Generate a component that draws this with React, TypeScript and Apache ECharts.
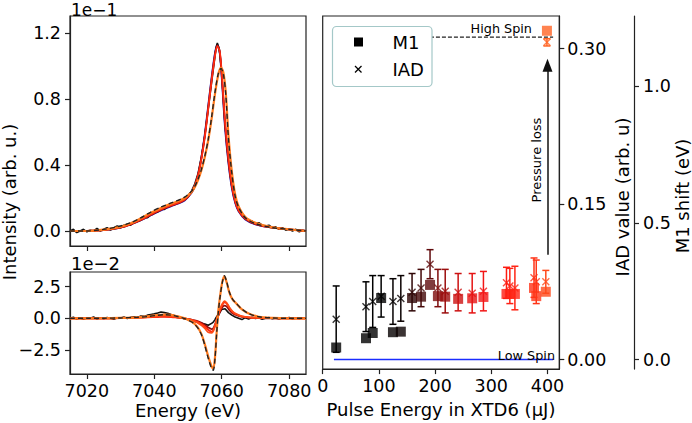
import React, { useEffect, useRef } from "react";
import * as echarts from "echarts";

// ---------- tick values ----------
const energyTicks = [7020, 7040, 7060, 7080];
const topTicks = [0, 0.4, 0.8, 1.2];
const bottomTicks = [-2.5, 0, 2.5];
const iadTicks = [0, 0.15, 0.3];
const m1Ticks = [0, 0.5, 1.0];

// ---------- top panel spectra (units of 1e-1) ----------
const lsEnergy = [7015, 7020, 7025, 7030, 7033, 7036, 7039, 7042, 7045, 7047, 7049, 7051, 7052, 7053, 7054, 7055, 7056, 7057, 7058, 7058.7, 7059.4, 7060, 7061, 7062, 7063, 7064, 7065, 7067, 7070, 7075, 7080, 7085];
const blueTop = [0, 0, 0.005, 0.02, 0.04, 0.065, 0.095, 0.125, 0.15, 0.165, 0.185, 0.23, 0.27, 0.34, 0.45, 0.59, 0.76, 0.93, 1.08, 1.13, 1.08, 0.93, 0.62, 0.41, 0.26, 0.17, 0.12, 0.07, 0.04, 0.02, 0.01, 0];
const darkRedTop = [0, 0, 0.005, 0.02, 0.04, 0.066, 0.097, 0.127, 0.152, 0.167, 0.187, 0.232, 0.272, 0.34, 0.445, 0.58, 0.75, 0.92, 1.07, 1.125, 1.085, 0.945, 0.64, 0.42, 0.27, 0.175, 0.122, 0.072, 0.042, 0.02, 0.01, 0];
const redTop = [0, 0, 0.006, 0.022, 0.042, 0.068, 0.1, 0.13, 0.155, 0.17, 0.19, 0.235, 0.275, 0.34, 0.44, 0.57, 0.74, 0.91, 1.06, 1.12, 1.09, 0.96, 0.66, 0.44, 0.28, 0.18, 0.125, 0.075, 0.045, 0.02, 0.01, 0];

const hsEnergy = [7015, 7020, 7025, 7030, 7033, 7036, 7039, 7042, 7045, 7047, 7049, 7051, 7052, 7053, 7054, 7055, 7056, 7057, 7058, 7059, 7059.8, 7060.5, 7061.2, 7062, 7063, 7064, 7065, 7067, 7070, 7075, 7080, 7085];
const orangeTop = [0, 0, 0.008, 0.026, 0.047, 0.077, 0.11, 0.14, 0.165, 0.18, 0.2, 0.235, 0.265, 0.31, 0.37, 0.45, 0.55, 0.68, 0.83, 0.95, 0.99, 0.96, 0.84, 0.58, 0.36, 0.22, 0.15, 0.085, 0.05, 0.022, 0.01, 0];
const dashedTop = [0, 0, 0.01, 0.03, 0.05, 0.08, 0.115, 0.145, 0.17, 0.185, 0.205, 0.24, 0.27, 0.315, 0.375, 0.455, 0.555, 0.69, 0.84, 0.955, 0.985, 0.95, 0.83, 0.56, 0.35, 0.21, 0.145, 0.08, 0.045, 0.02, 0.01, 0];

const noisyEnergy = [7015, 7016, 7017, 7018, 7019, 7020, 7021, 7022, 7023, 7024, 7025, 7026, 7027, 7028, 7029, 7030, 7031, 7032, 7033, 7034, 7035, 7036, 7037, 7038, 7039, 7040, 7041, 7042, 7043, 7044, 7045, 7046, 7047, 7048, 7049, 7050, 7051, 7052, 7053, 7054, 7055, 7056, 7057, 7057.5, 7058, 7058.3, 7058.7, 7059.3, 7060, 7061, 7062, 7063, 7064, 7065, 7066, 7067, 7068, 7069, 7070, 7071, 7072, 7073, 7074, 7075, 7076, 7077, 7078, 7079, 7080, 7081, 7082, 7083, 7084, 7085];
const blackTop = [0, 0.01, -0.01, 0, 0.01, -0.005, 0.005, 0, 0.015, 0, 0.01, 0.02, 0.005, 0.02, 0.03, 0.02, 0.035, 0.04, 0.035, 0.055, 0.06, 0.065, 0.085, 0.08, 0.1, 0.11, 0.115, 0.135, 0.13, 0.15, 0.155, 0.165, 0.17, 0.185, 0.19, 0.215, 0.24, 0.285, 0.35, 0.45, 0.58, 0.74, 0.9, 0.98, 1.06, 1.11, 1.14, 1.1, 0.96, 0.64, 0.43, 0.27, 0.18, 0.13, 0.1, 0.08, 0.065, 0.06, 0.045, 0.05, 0.035, 0.03, 0.035, 0.02, 0.025, 0.01, 0.02, 0.005, 0.01, 0, 0.01, -0.005, 0.005, 0];

// ---------- bottom panel differences (units of 1e-2) ----------
const diffEnergy = [7015, 7020, 7025, 7030, 7035, 7038, 7041, 7043, 7045, 7047, 7049, 7051, 7052, 7053, 7054, 7055, 7056, 7057, 7057.5, 7058, 7058.5, 7059, 7059.6, 7060.2, 7060.8, 7061.5, 7062.3, 7063.2, 7064.4, 7066, 7068, 7071, 7075, 7080, 7085];
const orangeDiff = [0, 0, 0.01, 0.03, 0.08, 0.15, 0.26, 0.3, 0.27, 0.15, 0, -0.25, -0.45, -0.75, -1.25, -2.05, -3.0, -3.8, -3.95, -3.1, -1.1, 0.6, 1.9, 2.9, 3.3, 2.8, 2.0, 1.5, 1.15, 0.7, 0.38, 0.12, 0.03, 0, 0];
const dashedDiff = [0, 0, 0.01, 0.03, 0.08, 0.14, 0.24, 0.28, 0.25, 0.13, -0.02, -0.27, -0.48, -0.8, -1.3, -2.15, -3.15, -3.95, -4.1, -3.2, -1.2, 0.5, 1.85, 2.85, 3.35, 2.85, 2.05, 1.52, 1.15, 0.72, 0.38, 0.12, 0.03, 0, 0];
const redDiff = [0, 0, 0, 0.02, 0.05, 0.08, 0.1, 0.12, 0.1, 0.05, 0, -0.12, -0.2, -0.3, -0.45, -0.65, -0.9, -1.05, -0.95, -0.6, -0.2, 0.25, 0.7, 1.05, 1.25, 1.15, 0.8, 0.5, 0.3, 0.15, 0.07, 0.03, 0.01, 0, 0];
const darkRedDiff = [0, 0, 0, 0.02, 0.06, 0.1, 0.14, 0.16, 0.13, 0.06, 0, -0.1, -0.16, -0.24, -0.36, -0.52, -0.72, -0.85, -0.78, -0.5, -0.15, 0.2, 0.58, 0.88, 1.0, 0.92, 0.65, 0.4, 0.24, 0.12, 0.05, 0.02, 0, 0, 0];
const orangeRedDiff = [0, 0, 0, 0.02, 0.05, 0.1, 0.18, 0.22, 0.18, 0.08, -0.02, -0.15, -0.25, -0.38, -0.55, -0.8, -1.1, -1.15, -1.0, -0.6, -0.1, 0.35, 0.8, 1.15, 1.35, 1.2, 0.85, 0.55, 0.33, 0.16, 0.08, 0.03, 0.01, 0, 0];
const blackDiff = [0, 0.08, -0.05, 0.03, -0.08, 0.05, 0, 0.1, -0.06, 0.04, -0.03, 0.07, 0, -0.07, 0.05, 0.02, 0.1, -0.02, 0.08, 0.12, 0.05, 0.18, 0.15, 0.25, 0.3, 0.35, 0.42, 0.5, 0.45, 0.4, 0.3, 0.22, 0.15, 0.05, -0.05, -0.1, -0.2, -0.25, -0.3, -0.4, -0.45, -0.55, -0.4, -0.3, -0.1, 0.05, 0.2, 0.4, 0.7, 0.75, 0.45, 0.25, 0.1, 0, -0.1, 0.05, -0.05, 0.08, -0.02, 0.05, -0.08, 0, 0.06, -0.04, 0.03, -0.06, 0.04, 0, 0.07, -0.05, 0.02, -0.03, 0.05, 0];

// ---------- right panel ----------
const pulseEnergy = [24, 77, 89, 104, 125, 139, 159, 175, 191, 205, 218, 241, 266, 286, 327, 333, 342, 376, 380, 397, 399];
const m1Shift = [0.044, 0.078, 0.097, 0.225, 0.1, 0.102, 0.225, 0.23, 0.273, 0.232, 0.23, 0.222, 0.224, 0.229, 0.24, 0.24, 0.24, 0.262, 0.232, 0.248, 1.203];
const iadValue = [0.039, 0.051, 0.056, 0.061, 0.056, 0.059, 0.065, 0.069, 0.092, 0.069, 0.066, 0.065, 0.064, 0.066, 0.074, 0.071, 0.069, 0.079, 0.075, 0.075, 0.306];
const iadError = [0.032, 0.024, 0.025, 0.02, 0.022, 0.022, 0.018, 0.018, 0.014, 0.018, 0.021, 0.018, 0.019, 0.019, 0.015, 0.017, 0.021, 0.019, 0.021, 0.011, 0.0035];
const pointColors = ["#000000", "#000000", "#000000", "#000000", "#050000", "#0a0000", "#2e0606", "#440808", "#600a0c", "#7e0c0c", "#9c0e0e", "#cc1111", "#e61414", "#f21616", "#ff1c12", "#ff2014", "#ff2515", "#ff3216", "#ff3618", "#ff4a1c", "#ff6424"];
const highSpinIAD = 0.311;
const lowSpinIAD = 0;
const spinLineRange = [20, 410];
const arrowRange = [0.101, 0.284];

const FONT = "DejaVu Sans";
const AX = "#222222";
const zip = (xs: number[], ys: number[]) => xs.map((x, i) => [x, ys[i]]);
const minus = (s: string) => s.replace("-", "\u2212");

function App() {
  const ref = useRef<HTMLDivElement>(null);
  useEffect(() => {
    if (!ref.current) return;
    const chart = echarts.init(ref.current, undefined, { renderer: "svg" });

    const tickLabel = { fontSize: 17.5, fontFamily: FONT, color: "#000", fontWeight: "normal" };
    const nameStyle = { fontSize: 18, fontFamily: FONT, color: "#000", fontWeight: "normal", verticalAlign: "top" };
    const baseAxis = {
      axisLine: { show: true, onZero: false, lineStyle: { color: AX, width: 1.2 } },
      axisTick: { show: true, length: 5, lineStyle: { color: AX, width: 1.2 } },
      splitLine: { show: false },
    };
    const lineS = (x: number[], y: number[], color: string, ax: number, width = 1.8, type: any = "solid", smooth: any = 0.3) => ({
      type: "line",
      xAxisIndex: ax,
      yAxisIndex: ax,
      data: zip(x, y),
      showSymbol: false,
      smooth,
      lineStyle: { color, width, type },
      silent: true,
    });

    const errData = pulseEnergy.map((p, i) => [p, iadValue[i] - iadError[i], iadValue[i] + iadError[i], i]);

    const option: any = {
      animation: false,
      grid: [
        { left: 70, top: 16, width: 236, height: 230, show: true, borderColor: AX, borderWidth: 1.2, backgroundColor: "transparent" },
        { left: 70, top: 272, width: 236, height: 102, show: true, borderColor: AX, borderWidth: 1.2, backgroundColor: "transparent" },
        { left: 322.7, top: 16, width: 236.6, height: 358, show: true, borderColor: AX, borderWidth: 1.2, backgroundColor: "transparent" },
      ],
      xAxis: [
        { ...baseAxis, gridIndex: 0, type: "value", min: 7015, max: 7085, axisLabel: { show: false, customValues: energyTicks }, axisTick: { ...baseAxis.axisTick, customValues: energyTicks } },
        { ...baseAxis, gridIndex: 1, type: "value", min: 7015, max: 7085, axisLabel: { ...tickLabel, margin: 8, customValues: energyTicks, formatter: (v: number) => String(v) }, axisTick: { ...baseAxis.axisTick, customValues: energyTicks },
          name: "Energy (eV)", nameLocation: "middle", nameGap: 27, nameTextStyle: nameStyle },
        { ...baseAxis, gridIndex: 2, type: "value", min: 0, max: 421, interval: 100, axisLabel: { ...tickLabel, margin: 8, showMinLabel: true, formatter: (v: number) => String(v) },
          name: "Pulse Energy in XTD6 (\u00b5J)", nameLocation: "middle", nameGap: 27, nameTextStyle: nameStyle },
      ],
      yAxis: [
        { ...baseAxis, gridIndex: 0, type: "value", min: -0.091, max: 1.303, axisLabel: { ...tickLabel, margin: 9, customValues: topTicks, formatter: (v: number) => v.toFixed(1) }, axisTick: { ...baseAxis.axisTick, customValues: topTicks } },
        { ...baseAxis, gridIndex: 1, type: "value", min: -4.39, max: 3.65, axisLabel: { ...tickLabel, margin: 9, customValues: bottomTicks, formatter: (v: number) => minus(v.toFixed(1)) }, axisTick: { ...baseAxis.axisTick, customValues: bottomTicks } },
        { ...baseAxis, gridIndex: 2, type: "value", position: "right", min: -0.0092, max: 0.3314, axisLabel: { ...tickLabel, margin: 8, customValues: iadTicks, formatter: (v: number) => v.toFixed(2) }, axisTick: { ...baseAxis.axisTick, customValues: iadTicks } },
        { ...baseAxis, gridIndex: 2, type: "value", position: "right", offset: 74.7, min: -0.035, max: 1.257, axisLabel: { ...tickLabel, margin: 9, customValues: m1Ticks, formatter: (v: number) => v.toFixed(1) }, axisTick: { ...baseAxis.axisTick, customValues: m1Ticks } },
      ],
      series: [
        // top panel
        lineS(lsEnergy, blueTop, "#2424c8", 0),
        lineS(noisyEnergy, blackTop, "#111111", 0, 1.6, "solid", false),
        lineS(lsEnergy, darkRedTop, "#8e0e0e", 0),
        lineS(lsEnergy, redTop, "#ff2a12", 0),
        lineS(hsEnergy, orangeTop, "#ff7a1e", 0, 2.2),
        lineS(hsEnergy, dashedTop, "#222222", 0, 1.4, [5, 3]),
        // bottom panel
        lineS(noisyEnergy, blackDiff, "#111111", 1, 1.6, "solid", false),
        lineS(diffEnergy, darkRedDiff, "#8e0e0e", 1),
        lineS(diffEnergy, redDiff, "#ff2a12", 1),
        lineS(diffEnergy, orangeRedDiff, "#ff4a16", 1),
        lineS(diffEnergy, orangeDiff, "#ff7a1e", 1, 2.2),
        lineS(diffEnergy, dashedDiff, "#222222", 1, 1.4, [5, 3]),
        // right panel reference lines
        {
          type: "line", xAxisIndex: 2, yAxisIndex: 2, silent: true, showSymbol: false,
          data: spinLineRange.map((x) => [x, highSpinIAD]),
          lineStyle: { color: "#222", width: 1.2, type: [4, 2] },
        },
        {
          type: "line", xAxisIndex: 2, yAxisIndex: 2, silent: true, showSymbol: false,
          data: spinLineRange.map((x) => [x, lowSpinIAD]),
          lineStyle: { color: "#1a2cff", width: 1.6 },
          markLine: {
            silent: true, symbol: ["none", "triangle"], symbolSize: [10, 13],
            label: { show: false },
            lineStyle: { color: "#111", width: 1.5, type: "solid" },
            data: [[{ coord: [400, arrowRange[0]] }, { coord: [400, arrowRange[1]] }]],
          },
        },
        // error bars
        {
          type: "custom", xAxisIndex: 2, yAxisIndex: 2, silent: true, z: 3,
          data: errData,
          encode: { x: 0, y: [1, 2] },
          renderItem: (params: any, api: any) => {
            const x = api.value(0), lo = api.value(1), hi = api.value(2), ci = api.value(3);
            const t = api.coord([x, hi]);
            const b = api.coord([x, lo]);
            const style = { stroke: pointColors[ci], lineWidth: 1.5, fill: "none" };
            const cap = 3.5;
            return {
              type: "group",
              children: [
                { type: "line", shape: { x1: t[0], y1: t[1], x2: b[0], y2: b[1] }, style },
                { type: "line", shape: { x1: t[0] - cap, y1: t[1], x2: t[0] + cap, y2: t[1] }, style },
                { type: "line", shape: { x1: b[0] - cap, y1: b[1], x2: b[0] + cap, y2: b[1] }, style },
              ],
            };
          },
        },
        // IAD crosses
        {
          type: "scatter", xAxisIndex: 2, yAxisIndex: 2, silent: true, z: 4,
          symbol: "path://M0,0L10,10M10,0L0,10", symbolSize: 7,
          data: pulseEnergy.map((p, i) => ({ value: [p, iadValue[i]], itemStyle: { color: pointColors[i], borderColor: pointColors[i], borderWidth: 1.4 } })),
        },
        // M1 squares
        {
          type: "scatter", xAxisIndex: 2, yAxisIndex: 3, silent: true, z: 5,
          symbol: "rect", symbolSize: 10,
          data: pulseEnergy.map((p, i) => ({ value: [p, m1Shift[i]], itemStyle: { color: pointColors[i] } })),
        },
      ],
      graphic: [
        { type: "text", z: 100, x: 71, y: 9.5, style: { text: "1e\u22121", fontSize: 17, fontFamily: FONT, fill: "#000", align: "left", verticalAlign: "middle" } },
        { type: "text", z: 100, x: 71, y: 263.5, style: { text: "1e\u22122", fontSize: 18, fontFamily: FONT, fill: "#000", align: "left", verticalAlign: "middle" } },
        { type: "text", z: 100, x: 9.5, y: 202, rotation: Math.PI / 2, style: { text: "Intensity (arb. u.)", fontSize: 18, fontFamily: FONT, fill: "#000", align: "center", verticalAlign: "middle" } },
        { type: "text", z: 100, x: 622, y: 197, rotation: Math.PI / 2, style: { text: "IAD value (arb. u)", fontSize: 18, fontFamily: FONT, fill: "#000", align: "center", verticalAlign: "middle" } },
        { type: "text", z: 100, x: 682, y: 196, rotation: Math.PI / 2, style: { text: "M1 shift (eV)", fontSize: 18, fontFamily: FONT, fill: "#000", align: "center", verticalAlign: "middle" } },
        { type: "text", z: 100, x: 532, y: 28.5, style: { text: "High Spin", fontSize: 12.8, fontFamily: FONT, fill: "#000", align: "right", verticalAlign: "middle" } },
        { type: "text", z: 100, x: 555, y: 355, style: { text: "Low Spin", fontSize: 12.8, fontFamily: FONT, fill: "#000", align: "right", verticalAlign: "middle" } },
        { type: "text", z: 100, x: 536.5, y: 160, rotation: Math.PI / 2, style: { text: "Pressure loss", fontSize: 13, fontFamily: FONT, fill: "#000", align: "center", verticalAlign: "middle" } },
        // legend
        { type: "rect", z: 100, shape: { x: 332.5, y: 26.5, width: 99.5, height: 60, r: 4 }, style: { fill: "#fff", stroke: "#a4c8c8", lineWidth: 1.2 } },
        { type: "rect", z: 101, shape: { x: 354, y: 37.5, width: 9, height: 9 }, style: { fill: "#000" } },
        { type: "line", z: 101, shape: { x1: 355, y1: 66, x2: 361.5, y2: 72.5 }, style: { stroke: "#000", lineWidth: 1.3 } },
        { type: "line", z: 101, shape: { x1: 361.5, y1: 66, x2: 355, y2: 72.5 }, style: { stroke: "#000", lineWidth: 1.3 } },
        { type: "text", z: 101, x: 392.5, y: 42, style: { text: "M1", fontSize: 18, fontFamily: FONT, fill: "#000", align: "left", verticalAlign: "middle" } },
        { type: "text", z: 101, x: 392.5, y: 69.5, style: { text: "IAD", fontSize: 18, fontFamily: FONT, fill: "#000", align: "left", verticalAlign: "middle" } },
      ],
    };
    chart.setOption(option);
    return () => chart.dispose();
  }, []);
  return <div ref={ref} style={{ position: "fixed", left: 0, top: 0, width: 692, height: 423, background: "#fff" }} />;
}

export default App;
